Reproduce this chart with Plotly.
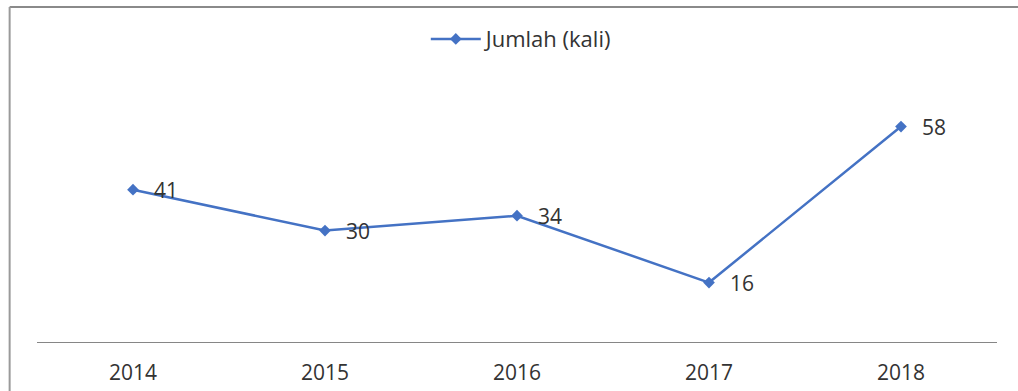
import plotly.graph_objects as go

years = [2014, 2015, 2016, 2017, 2018]
jumlah = [41, 30, 34, 16, 58]

fig = go.Figure()
fig.add_trace(go.Scatter(
    x=years, y=jumlah, mode="lines+markers", name="Jumlah (kali)",
    line=dict(color="#4472C4", width=2.5),
    marker=dict(symbol="diamond", size=9, color="#4472C4"),
))

# data labels to the right of each point
annotations = [dict(x=x, y=y, text=str(y), showarrow=False, xanchor="left",
                    yanchor="middle", xshift=19, font=dict(size=21, color="#333333"))
               for x, y in zip(years, jumlah)]

# outer chart border (top and left edges visible)
shapes = [
    dict(type="line", xref="paper", yref="paper", x0=-0.0285, x1=1.1, y0=1.288, y1=1.288,
         line=dict(color="#8a8a8a", width=2)),
    dict(type="line", xref="paper", yref="paper", x0=-0.0285, x1=-0.0285, y0=1.288, y1=-0.3,
         line=dict(color="#9a9a9a", width=2)),
]

fig.update_layout(
    width=1018, height=391,
    margin=dict(l=37, r=21, t=82, b=49, autoexpand=False),
    paper_bgcolor="white", plot_bgcolor="white",
    font=dict(family="Open Sans, Lato, sans-serif", size=21, color="#333333"),
    xaxis=dict(type="linear", range=[years[0] - 0.5, years[-1] + 0.5],
               tickmode="array", tickvals=years, ticktext=[str(y) for y in years],
               showline=True, linecolor="#868686", linewidth=1,
               showgrid=False, zeroline=False, ticks="outside", ticklen=12,
               tickcolor="rgba(0,0,0,0)", tickfont=dict(size=21)),
    yaxis=dict(range=[0, 70], visible=False),
    showlegend=True,
    legend=dict(orientation="h", x=0.505, xanchor="center", y=1.165, yanchor="middle",
                itemwidth=50, font=dict(size=22)),
    annotations=annotations,
    shapes=shapes,
)

fig.write_html("out.html", config={"displayModeBar": False},
               post_script="document.body.style.margin='0';")
